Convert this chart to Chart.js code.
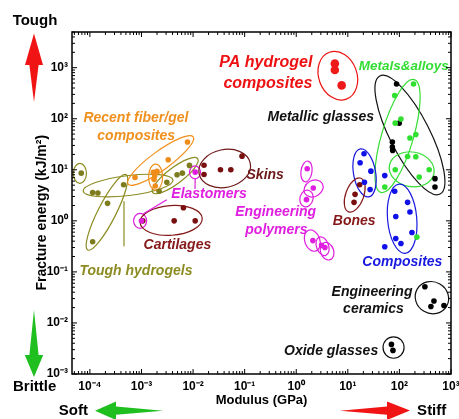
<!DOCTYPE html>
<html>
<head>
<meta charset="utf-8">
<script src="https://cdn.jsdelivr.net/npm/chart.js@4.4.1/dist/chart.umd.min.js"></script>
<style>
  html, body { margin: 0; padding: 0; background: #ffffff; }
  #c { display: block; }
</style>
</head>
<body>
<canvas id="c" width="459" height="419"></canvas>
<script>
// ---------------- DATA ----------------
// Modulus in GPa (x), fracture energy in kJ/m^2 (y)
const toughHydrogelsX = [6.8e-5, 1.13e-4, 1.43e-4, 2.2e-4, 4.5e-4, 1.13e-4, 2.2e-3, 3.1e-3, 4.9e-3, 6.2e-3, 8.5e-3];
const toughHydrogelsY = [8.6, 3.6, 3.5, 2.2, 5.1, 0.39, 3.8, 5.7, 8.0, 8.6, 12.2];
const fiberGelX = [7.5e-4, 1.7e-3, 2.0e-3, 1.8e-3, 1.75e-3, 1.85e-3, 3.3e-3, 7.8e-3];
const fiberGelY = [7.1, 8.9, 9.3, 7.6, 6.5, 4.8, 15.7, 35];
const elastomersX = [1.1e-2, 1.0e-3];
const elastomersY = [9.0, 1.0];
const skinsX = [1.63e-2, 1.63e-2, 3.4e-2, 5.4e-2, 8.9e-2];
const skinsY = [12.3, 8.1, 10, 10, 18.5];
const cartilagesX = [1.06e-3, 4.3e-3, 1.1e-2, 6.5e-3];
const cartilagesY = [1.0, 1.0, 1.0, 1.8];
const engPolymersX = [1.63, 2.14, 1.58, 2.1, 3.1, 3.6];
const engPolymersY = [10.5, 4.4, 2.6, 0.41, 0.33, 0.30];
const paHydrogelX = [5.6, 5.6, 7.6];
const paHydrogelY = [1200, 900, 450];
const metalsX = [188, 81, 83, 107, 160, 208, 144, 208, 83, 378, 242, 52, 218];
const metalsY = [480, 284, 82, 99, 42, 49, 18.2, 18, 10, 10, 7.2, 4.6, 0.48];
const metallicGlassesX = [88, 99, 73, 73, 74, 489, 489];
const metallicGlassesY = [480, 82, 35, 28, 24, 6.7, 4.6];
const compositesX = [20.6, 17.3, 28, 52, 21, 27, 81, 144, 160, 85, 175, 85, 107, 52];
const compositesY = [20.6, 13.7, 9.4, 7.7, 5.7, 4.1, 3.8, 2.3, 1.49, 1.22, 0.59, 0.45, 0.36, 0.31];
const bonesX = [17, 13.8, 13.2];
const bonesY = [5.1, 3.3, 2.3];
const ceramicsX = [312, 467, 408, 730];
const ceramicsY = [0.051, 0.027, 0.021, 0.022];
const oxideGlassesX = [70, 75];
const oxideGlassesY = [0.0038, 0.0029];

// Axis ticks
const xTickValues = [1e-4, 1e-3, 1e-2, 1e-1, 1e0, 1e1, 1e2, 1e3];
const xTickLabels = ['10⁻⁴', '10⁻³', '10⁻²', '10⁻¹', '10⁰', '10¹', '10²', '10³'];
const yTickValues = [1e-3, 1e-2, 1e-1, 1e0, 1e1, 1e2, 1e3];
const yTickLabels = ['10⁻³', '10⁻²', '10⁻¹', '10⁰', '10¹', '10²', '10³'];
const xRange = [4.5e-5, 1000];
const yRange = [1e-3, 5000];

// Group outlines (ellipses): centre x, centre y (data), half-widths in decades, tilt (deg), group
const outlineCX = [6.4e-5, 5.5e-4, 2.14e-4, 4.5e-3, 2.35e-3, 1.88e-3, 1.09e-2, 9.4e-4, 3.76e-3, 4.1e-2, 1.58, 2.17, 1.58, 2.05, 3.24, 3.97, 6.4, 160, 92, 173, 21.1, 113, 13.6, 427, 77];
const outlineCY = [8.5, 4.9, 1.47, 7.7, 15.2, 7.2, 8.9, 1.0, 1.02, 10.6, 9.3, 4.3, 2.75, 0.41, 0.318, 0.254, 698, 48, 45.8, 10.2, 8.7, 1.1, 3.2, 0.0313, 0.0033];
const outlineRX = [0.127, 0.877, 0.82, 0.546, 0.78, 0.136, 0.107, 0.127, 0.604, 0.507, 0.107, 0.195, 0.127, 0.146, 0.117, 0.127, 0.37, 1.285, 1.14, 0.438, 0.214, 0.283, 0.175, 0.33, 0.204];
const outlineRY = [0.195, 0.195, 0.175, 0.156, 0.185, 0.254, 0.127, 0.146, 0.292, 0.37, 0.205, 0.156, 0.166, 0.215, 0.19, 0.176, 0.488, 0.39, 0.31, 0.34, 0.477, 0.68, 0.35, 0.31, 0.21];
const outlineTilt = [0, -7, -63, -37, -36, 0, 0, 0, -4, -12, 8, -30, 15, -20, -20, -20, -20, 63, -73.5, 10, -10, -5, 20, 30, 0];
const outlineGroup = ['olive', 'olive', 'olive', 'olive', 'orange', 'orange', 'magenta', 'magenta', 'maroon', 'maroonDark', 'magenta', 'magenta', 'magenta', 'magenta', 'magenta', 'magenta', 'red', 'black', 'green', 'green', 'blue', 'blue', 'maroon', 'black', 'black'];

// Leader lines (data coordinates)
const leaderX1 = [4.58e-4, 1.09e-3, 1.1e-2];
const leaderY1 = [2.42, 1.38, 6.8];
const leaderX2 = [4.58e-4, 3.1e-3, 1.09e-2];
const leaderY2 = [0.319, 2.6, 4.2];
const leaderGroup = ['olive', 'magenta', 'magenta'];

// Category labels (text, anchor in data coordinates)
const labelText = ['PA hydrogel', 'composites', 'Metals&alloys', 'Metallic glasses', 'Recent fiber/gel', 'composites', 'Skins', 'Elastomers', 'Engineering', 'polymers', 'Bones', 'Composites', 'Engineering', 'ceramics', 'Oxide glasses', 'Cartilages', 'Tough hydrogels'];
const labelX = [0.258, 0.282, 121, 2.99, 7.8e-4, 7.9e-4, 0.25, 2.04e-2, 0.40, 0.413, 13.3, 114, 29.4, 31.4, 4.74, 4.97e-3, 7.8e-4];
const labelY = [1253, 486, 1060, 107, 102, 45.4, 7.7, 3.4, 1.45, 0.653, 1.0, 0.152, 0.0406, 0.0187, 0.00285, 0.332, 0.103];
const labelGroup = ['red', 'red', 'green', 'black', 'orange', 'orange', 'maroonDark', 'magenta', 'magenta', 'magenta', 'maroon', 'blue', 'black', 'black', 'black', 'maroon', 'olive'];

// ---------------- STYLES ----------------
const palette = {
  olive: '#8c8c22', orange: '#f0901e', magenta: '#e01ee0', maroon: '#851818',
  maroonDark: '#6e1a1a', red: '#ee1111', green: '#33dd33', blue: '#1818e0', black: '#111111'
};
const FONT = "'Liberation Sans', Arial, Helvetica, sans-serif";

function pts(xs, ys) { return xs.map((x, i) => ({ x: x, y: ys[i] })); }
function series(label, xs, ys, color, r) {
  return { label: label, data: pts(xs, ys), backgroundColor: color, borderColor: color,
           borderWidth: 0, pointRadius: r || 2.8, pointHoverRadius: r || 2.8 };
}

const datasets = [
  series('Tough hydrogels', toughHydrogelsX, toughHydrogelsY, '#7d7d1e'),
  series('Recent fiber/gel composites', fiberGelX, fiberGelY, '#f08c1a'),
  series('Elastomers', elastomersX, elastomersY, palette.magenta),
  series('Skins', skinsX, skinsY, '#7a0f0f'),
  series('Cartilages', cartilagesX, cartilagesY, '#7a0f0f'),
  series('Engineering polymers', engPolymersX, engPolymersY, palette.magenta),
  series('PA hydrogel composites', paHydrogelX, paHydrogelY, '#ee1a1a', 4.3),
  series('Metals & alloys', metalsX, metalsY, '#2fe02f'),
  series('Metallic glasses', metallicGlassesX, metallicGlassesY, '#000000'),
  series('Composites', compositesX, compositesY, '#1010e8'),
  series('Bones', bonesX, bonesY, '#7a0f0f'),
  series('Engineering ceramics', ceramicsX, ceramicsY, '#000000'),
  series('Oxide glasses', oxideGlassesX, oxideGlassesY, '#000000')
];

function decadePx(scale) {
  return Math.abs(scale.getPixelForValue(10) - scale.getPixelForValue(1));
}

const decorations = {
  id: 'decorations',
  beforeDatasetsDraw(chart) {
    const { ctx, scales: { x, y } } = chart;
    const dx = decadePx(x), dy = decadePx(y);
    ctx.save();
    ctx.lineWidth = 1.2;
    for (let i = 0; i < outlineCX.length; i++) {
      ctx.strokeStyle = palette[outlineGroup[i]];
      ctx.beginPath();
      ctx.ellipse(x.getPixelForValue(outlineCX[i]), y.getPixelForValue(outlineCY[i]),
                  outlineRX[i] * dx, outlineRY[i] * dy, outlineTilt[i] * Math.PI / 180, 0, Math.PI * 2);
      ctx.stroke();
    }
    for (let i = 0; i < leaderX1.length; i++) {
      ctx.strokeStyle = palette[leaderGroup[i]];
      ctx.beginPath();
      ctx.moveTo(x.getPixelForValue(leaderX1[i]), y.getPixelForValue(leaderY1[i]));
      ctx.lineTo(x.getPixelForValue(leaderX2[i]), y.getPixelForValue(leaderY2[i]));
      ctx.stroke();
    }
    ctx.restore();
  },
  afterDatasetsDraw(chart) {
    const { ctx, scales: { x, y } } = chart;
    ctx.save();
    ctx.textAlign = 'center';
    ctx.textBaseline = 'middle';
    for (let i = 0; i < labelText.length; i++) {
      const size = labelGroup[i] === 'red' ? 16 : (labelGroup[i] === 'green' ? 13.5 : 14);
      ctx.font = 'italic bold ' + size + 'px ' + FONT;
      ctx.fillStyle = palette[labelGroup[i]];
      ctx.fillText(labelText[i], x.getPixelForValue(labelX[i]), y.getPixelForValue(labelY[i]));
    }
    ctx.restore();
  },
  afterDraw(chart) {
    const { ctx, chartArea: a, scales: { x, y } } = chart;
    ctx.save();
    ctx.strokeStyle = '#000';
    ctx.lineWidth = 1.5;
    ctx.strokeRect(a.left, a.top, a.right - a.left, a.bottom - a.top);
    ctx.lineWidth = 1;
    function logTicks(scale, cb) {
      const lo = Math.floor(Math.log10(scale.min)), hi = Math.ceil(Math.log10(scale.max));
      for (let e = lo; e <= hi; e++) {
        for (let k = 1; k <= 9; k++) {
          const v = k * Math.pow(10, e);
          if (v < scale.min * 0.999 || v > scale.max * 1.001) continue;
          cb(scale.getPixelForValue(v), k === 1);
        }
      }
    }
    ctx.beginPath();
    logTicks(x, (p, major) => {
      const L = major ? 5 : 3;
      ctx.moveTo(p, a.bottom); ctx.lineTo(p, a.bottom - L);
      ctx.moveTo(p, a.top); ctx.lineTo(p, a.top + L);
    });
    logTicks(y, (p, major) => {
      const L = major ? 5 : 3;
      ctx.moveTo(a.left, p); ctx.lineTo(a.left + L, p);
      ctx.moveTo(a.right, p); ctx.lineTo(a.right - L, p);
    });
    ctx.stroke();

    function poly(points, color) {
      ctx.fillStyle = color;
      ctx.beginPath();
      ctx.moveTo(points[0][0], points[0][1]);
      for (let i = 1; i < points.length; i++) ctx.lineTo(points[i][0], points[i][1]);
      ctx.closePath();
      ctx.fill();
    }
    const L = a.left, B = a.bottom;
    const red = '#f01414', green = '#1fbf1f';
    poly([[L - 38, 33.5], [L - 29, 65], [L - 33.4, 65], [L - 38, 102], [L - 42.6, 65], [L - 47, 65]], red);
    poly([[L - 38, 310], [L - 33.4, 355], [L - 28.8, 355], [L - 38, 377], [L - 47.2, 355], [L - 42.6, 355]], green);
    poly([[95, B + 36.7], [116, B + 27.5], [116, B + 32.6], [163, B + 36.7], [116, B + 40.8], [116, B + 46]], green);
    poly([[340, B + 36.7], [387, B + 32.6], [387, B + 27.5], [410, B + 36.5], [387, B + 46], [387, B + 40.8]], red);

    ctx.fillStyle = '#000';
    ctx.font = 'bold 15px ' + FONT;
    ctx.textAlign = 'center';
    ctx.textBaseline = 'middle';
    ctx.fillText('Tough', 35, 20.7);
    ctx.fillText('Brittle', 34.7, 387.3);
    ctx.fillText('Soft', 73.3, 410.7);
    ctx.fillText('Stiff', 431.7, 410.7);
    ctx.restore();
  }
};

new Chart(document.getElementById('c').getContext('2d'), {
  type: 'scatter',
  data: { datasets: datasets },
  options: {
    responsive: false,
    animation: false,
    layout: { padding: { left: 0, right: 8, top: 32, bottom: 0 } },
    plugins: { legend: { display: false }, tooltip: { enabled: false } },
    scales: {
      x: {
        type: 'logarithmic', min: xRange[0], max: xRange[1],
        afterBuildTicks: (s) => { s.ticks = xTickValues.map(v => ({ value: v })); },
        afterFit: (s) => { s.height = 45; s.paddingLeft = 0; s.paddingRight = 0; },
        grid: { display: false, drawTicks: false },
        border: { display: false },
        ticks: {
          autoSkip: false, maxRotation: 0, padding: 5, color: '#000',
          font: { family: FONT, size: 12, weight: 'bold' },
          callback: (v, i) => xTickLabels[i]
        },
        title: {
          display: true, text: 'Modulus (GPa)', color: '#000',
          font: { family: FONT, size: 13, weight: 'bold' },
          padding: { top: 0, bottom: 11 }
        }
      },
      y: {
        type: 'logarithmic', min: yRange[0], max: yRange[1],
        afterBuildTicks: (s) => { s.ticks = yTickValues.map(v => ({ value: v })); },
        afterFit: (s) => { s.width = 72; s.paddingTop = 0; s.paddingBottom = 0; },
        grid: { display: false, drawTicks: false },
        border: { display: false },
        ticks: {
          autoSkip: false, padding: 4, color: '#000',
          font: { family: FONT, size: 12, weight: 'bold' },
          callback: (v, i) => yTickLabels[i]
        },
        title: {
          display: true, text: 'Fracture energy (kJ/m²)     ', color: '#000',
          font: { family: FONT, size: 14, weight: 'bold' },
          padding: { top: 34, bottom: 0 }
        }
      }
    }
  },
  plugins: [decorations]
});
</script>
</body>
</html>
